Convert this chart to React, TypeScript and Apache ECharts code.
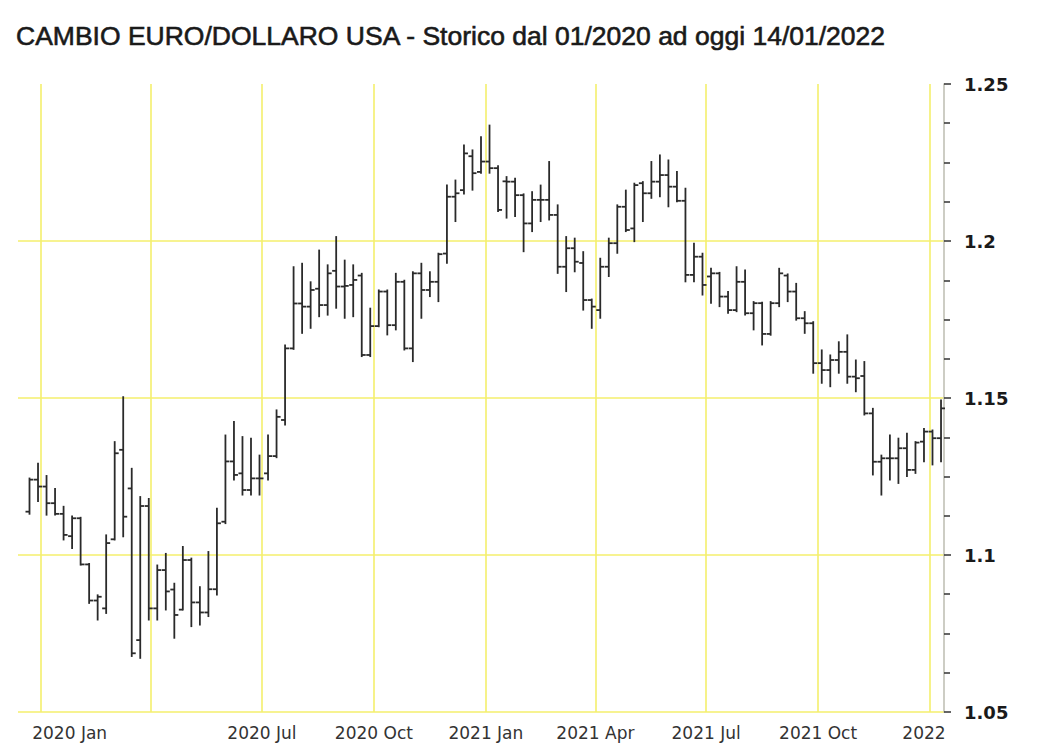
import React, { useEffect, useRef } from 'react';
import * as echarts from 'echarts';

// Weekly bars (week starting Monday)
const weeks = [
  '2019-12-23', '2019-12-30',
  '2020-01-06', '2020-01-13', '2020-01-20', '2020-01-27', '2020-02-03', '2020-02-10', '2020-02-17', '2020-02-24',
  '2020-03-02', '2020-03-09', '2020-03-16', '2020-03-23', '2020-03-30', '2020-04-06', '2020-04-13', '2020-04-20',
  '2020-04-27', '2020-05-04', '2020-05-11', '2020-05-18', '2020-05-25', '2020-06-01', '2020-06-08', '2020-06-15',
  '2020-06-22', '2020-06-29', '2020-07-06', '2020-07-13', '2020-07-20', '2020-07-27', '2020-08-03', '2020-08-10',
  '2020-08-17', '2020-08-24', '2020-08-31', '2020-09-07', '2020-09-14', '2020-09-21', '2020-09-28', '2020-10-05',
  '2020-10-12', '2020-10-19', '2020-10-26', '2020-11-02', '2020-11-09', '2020-11-16', '2020-11-23', '2020-11-30',
  '2020-12-07', '2020-12-14', '2020-12-21', '2020-12-28',
  '2021-01-04', '2021-01-11', '2021-01-18', '2021-01-25', '2021-02-01', '2021-02-08', '2021-02-15', '2021-02-22',
  '2021-03-01', '2021-03-08', '2021-03-15', '2021-03-22', '2021-03-29', '2021-04-05', '2021-04-12', '2021-04-19',
  '2021-04-26', '2021-05-03', '2021-05-10', '2021-05-17', '2021-05-24', '2021-05-31', '2021-06-07', '2021-06-14',
  '2021-06-21', '2021-06-28', '2021-07-05', '2021-07-12', '2021-07-19', '2021-07-26', '2021-08-02', '2021-08-09',
  '2021-08-16', '2021-08-23', '2021-08-30', '2021-09-06', '2021-09-13', '2021-09-20', '2021-09-27', '2021-10-04',
  '2021-10-11', '2021-10-18', '2021-10-25', '2021-11-01', '2021-11-08', '2021-11-15', '2021-11-22', '2021-11-29',
  '2021-12-06', '2021-12-13', '2021-12-20', '2021-12-27',
  '2022-01-03', '2022-01-10',
];

const opens = [
  1.1138, 1.1240, 1.1218, 1.1165, 1.1131, 1.1060, 1.1117, 1.0970, 1.0855, 1.0830,
  1.1050, 1.1335, 1.1212, 1.0729, 1.1156, 1.0830, 1.0952, 1.0890, 1.0826, 1.0984,
  1.0849, 1.0817, 1.0891, 1.1106, 1.1298, 1.1260, 1.1207, 1.1244, 1.1260, 1.1315,
  1.1430, 1.1658, 1.1801, 1.1791, 1.1848, 1.1796, 1.1905, 1.1855, 1.1860, 1.1890,
  1.1637, 1.1729, 1.1839, 1.1732, 1.1870, 1.1658, 1.1897, 1.1844, 1.1870, 1.1960,
  1.2141, 1.2162, 1.2270, 1.2220, 1.2253, 1.2232, 1.2190, 1.2189, 1.2146, 1.2056,
  1.2131, 1.2131, 1.2083, 1.1918, 1.1977, 1.1930, 1.1812, 1.1780, 1.1918, 1.1993,
  1.2109, 1.2040, 1.2184, 1.2152, 1.2189, 1.2210, 1.2173, 1.2128, 1.1892, 1.1950,
  1.1887, 1.1897, 1.1823, 1.1780, 1.1870, 1.1770, 1.1802, 1.1704, 1.1802, 1.1890,
  1.1839, 1.1754, 1.1738, 1.1611, 1.1589, 1.1621, 1.1647, 1.1568, 1.1570, 1.1451,
  1.1297, 1.1308, 1.1308, 1.1340, 1.1271, 1.1361, 1.1393, 1.1372,
];

const highs = [
  1.1245, 1.1292, 1.1253, 1.1212, 1.1155, 1.1124, 1.1120, 1.0973, 1.0873, 1.1064,
  1.1361, 1.1504, 1.1276, 1.1186, 1.1180, 1.0968, 1.1005, 1.0910, 1.1027, 1.0990,
  1.0899, 1.1011, 1.1149, 1.1382, 1.1425, 1.1377, 1.1372, 1.1318, 1.1382, 1.1462,
  1.1669, 1.1918, 1.1929, 1.1870, 1.1971, 1.1924, 1.2014, 1.1939, 1.1924, 1.1897,
  1.1786, 1.1844, 1.1844, 1.1897, 1.1875, 1.1902, 1.1929, 1.1902, 1.1961, 1.2178,
  1.2194, 1.2306, 1.2290, 1.2332, 1.2369, 1.2240, 1.2205, 1.2200, 1.2150, 1.2157,
  1.2178, 1.2253, 1.2115, 1.2014, 1.2009, 1.1966, 1.1815, 1.1945, 1.2009, 1.2115,
  1.2162, 1.2184, 1.2189, 1.2253, 1.2274, 1.2258, 1.2221, 1.2168, 1.1993, 1.1961,
  1.1913, 1.1900, 1.1839, 1.1918, 1.1908, 1.1807, 1.1805, 1.1807, 1.1913, 1.1895,
  1.1865, 1.1775, 1.1743, 1.1653, 1.1637, 1.1679, 1.1701, 1.1621, 1.1616, 1.1467,
  1.1318, 1.1382, 1.1372, 1.1388, 1.1361, 1.1403, 1.1398, 1.1494,
];

const lows = [
  1.1130, 1.1170, 1.1127, 1.1127, 1.1048, 1.1021, 1.0968, 1.0846, 1.0793, 1.0814,
  1.1048, 1.1058, 1.0677, 1.0671, 1.0793, 1.0793, 1.0825, 1.0735, 1.0825, 1.0772,
  1.0777, 1.0804, 1.0873, 1.1100, 1.1239, 1.1191, 1.1191, 1.1191, 1.1239, 1.1310,
  1.1414, 1.1655, 1.1706, 1.1722, 1.1759, 1.1764, 1.1786, 1.1754, 1.1759, 1.1632,
  1.1632, 1.1727, 1.1701, 1.1717, 1.1653, 1.1616, 1.1754, 1.1823, 1.1807, 1.1929,
  1.2062, 1.2150, 1.2162, 1.2216, 1.2216, 1.2094, 1.2073, 1.2078, 1.1966, 1.2030,
  1.2062, 1.2067, 1.1897, 1.1839, 1.1902, 1.1780, 1.1722, 1.1754, 1.1887, 1.1961,
  1.2030, 1.1998, 1.2062, 1.2136, 1.2141, 1.2109, 1.2125, 1.1870, 1.1870, 1.1828,
  1.1802, 1.1791, 1.1770, 1.1775, 1.1764, 1.1717, 1.1669, 1.1700, 1.1791, 1.1807,
  1.1748, 1.1706, 1.1579, 1.1547, 1.1536, 1.1579, 1.1547, 1.1520, 1.1446, 1.1255,
  1.1191, 1.1239, 1.1228, 1.1250, 1.1260, 1.1297, 1.1287, 1.1297,
];

const closes = [
  1.1240, 1.1218, 1.1165, 1.1131, 1.1064, 1.1117, 1.0970, 1.0855, 1.0867, 1.1038,
  1.1324, 1.1122, 1.0687, 1.1156, 1.0830, 1.0952, 1.0884, 1.0809, 1.0984, 1.0849,
  1.0817, 1.0891, 1.1101, 1.1298, 1.1255, 1.1207, 1.1244, 1.1244, 1.1315, 1.1440,
  1.1658, 1.1801, 1.1791, 1.1844, 1.1796, 1.1897, 1.1855, 1.1857, 1.1876, 1.1637,
  1.1729, 1.1839, 1.1732, 1.1870, 1.1658, 1.1897, 1.1844, 1.1870, 1.1958, 1.2141,
  1.2152, 1.2279, 1.2216, 1.2253, 1.2232, 1.2099, 1.2189, 1.2146, 1.2056, 1.2131,
  1.2131, 1.2083, 1.1918, 1.1977, 1.1934, 1.1812, 1.1791, 1.1918, 1.1993, 1.2109,
  1.2035, 1.2178, 1.2152, 1.2189, 1.2210, 1.2173, 1.2128, 1.1892, 1.1950, 1.1860,
  1.1897, 1.1823, 1.1780, 1.1870, 1.1770, 1.1802, 1.1704, 1.1802, 1.1897, 1.1839,
  1.1754, 1.1738, 1.1611, 1.1589, 1.1621, 1.1647, 1.1568, 1.1563, 1.1451, 1.1297,
  1.1308, 1.1308, 1.1340, 1.1271, 1.1358, 1.1393, 1.1372, 1.1467,
];

// Quarter boundaries (vertical grid lines)
const quarterStarts = [
  '2020-01-01', '2020-04-01', '2020-07-01', '2020-10-01',
  '2021-01-01', '2021-04-01', '2021-07-01', '2021-10-01', '2022-01-01',
];

// X-axis tick labels and the dates they are anchored at
const labelAnchors = ['2020-01-25', '2020-07-01', '2020-10-01', '2021-01-01', '2021-04-01', '2021-07-01', '2021-10-01', '2021-12-27'];
const labelTexts = ['2020 Jan', '2020 Jul', '2020 Oct', '2021 Jan', '2021 Apr', '2021 Jul', '2021 Oct', '2022'];

const TITLE = 'CAMBIO EURO/DOLLARO USA - Storico dal 01/2020 ad oggi 14/01/2022';

const DAY = 86400000;
function ts(d: string): number {
  const [y, m, dd] = d.split('-').map(Number);
  return Date.UTC(y, m - 1, dd);
}

export default function App() {
  const ref = useRef<HTMLDivElement>(null);

  useEffect(() => {
    if (!ref.current) return;
    const chart = echarts.init(ref.current, null, { renderer: 'svg' });
    const data = weeks.map((w, i) => [ts(w), opens[i], highs[i], lows[i], closes[i]]);
    const labelMap = new Map<number, string>(labelAnchors.map((d, i) => [ts(d), labelTexts[i]]));
    const first = ts(weeks[0]);
    const last = ts(weeks[weeks.length - 1]);

    chart.setOption({
      animation: false,
      backgroundColor: '#ffffff',
      title: {
        text: TITLE,
        left: 11,
        top: 17,
        textStyle: {
          fontFamily: 'Liberation Sans',
          fontSize: 26.5,
          fontWeight: 'normal',
          color: '#1a1a1a',
          textBorderColor: '#1a1a1a',
          textBorderWidth: 0.6,
        },
      },
      grid: { left: 18, right: 109, top: 84, bottom: 37 },
      xAxis: {
        type: 'value',
        min: first - 1.35 * 7 * DAY,
        max: last + 0.35 * 7 * DAY,
        axisLine: { show: false },
        axisTick: { show: false, customValues: quarterStarts.map(ts) },
        splitLine: { show: true, lineStyle: { color: '#f4ef6c', width: 1.6 } },
        axisLabel: {
          customValues: labelAnchors.map(ts),
          formatter: (v: number) => labelMap.get(v) ?? '',
          fontFamily: 'DejaVu Sans',
          fontSize: 17,
          color: '#333333',
          margin: 12,
        },
      },
      yAxis: {
        type: 'value',
        position: 'right',
        min: 1.05,
        max: 1.25,
        interval: 0.05,
        axisLine: { show: true, lineStyle: { color: '#bdbdb0', width: 1.5 } },
        axisTick: { show: true, length: 7, lineStyle: { color: '#333', width: 1.5 } },
        minorTick: { show: true, splitNumber: 4, length: 6, lineStyle: { color: '#333', width: 1.5 } },
        splitLine: { show: true, showMaxLine: false, lineStyle: { color: '#f4ef6c', width: 1.6 } },
        axisLabel: {
          margin: 20,
          fontFamily: 'DejaVu Sans',
          fontWeight: 'bold',
          fontSize: 18,
          color: '#1a1a1a',
        },
      },
      series: [
        {
          type: 'custom',
          name: 'EUR/USD',
          data,
          encode: { x: 0, y: [1, 2, 3, 4] },
          renderItem: (params: any, api: any) => {
            const x = api.value(0);
            const pO = api.coord([x, api.value(1)]);
            const pH = api.coord([x, api.value(2)]);
            const pL = api.coord([x, api.value(3)]);
            const pC = api.coord([x, api.value(4)]);
            const style = { stroke: '#2a2a2a', lineWidth: 1.8 };
            return {
              type: 'group',
              children: [
                { type: 'line', shape: { x1: pH[0], y1: pH[1] - 0.5, x2: pL[0], y2: pL[1] + 0.5 }, style },
                { type: 'line', shape: { x1: pO[0] - 4, y1: pO[1], x2: pO[0], y2: pO[1] }, style },
                { type: 'line', shape: { x1: pC[0], y1: pC[1], x2: pC[0] + 4, y2: pC[1] }, style },
              ],
            };
          },
        },
      ],
    });

    return () => chart.dispose();
  }, []);

  return (
    <div
      ref={ref}
      style={{ position: 'fixed', left: 0, top: 0, width: 1053, height: 749, background: '#fff' }}
    />
  );
}
